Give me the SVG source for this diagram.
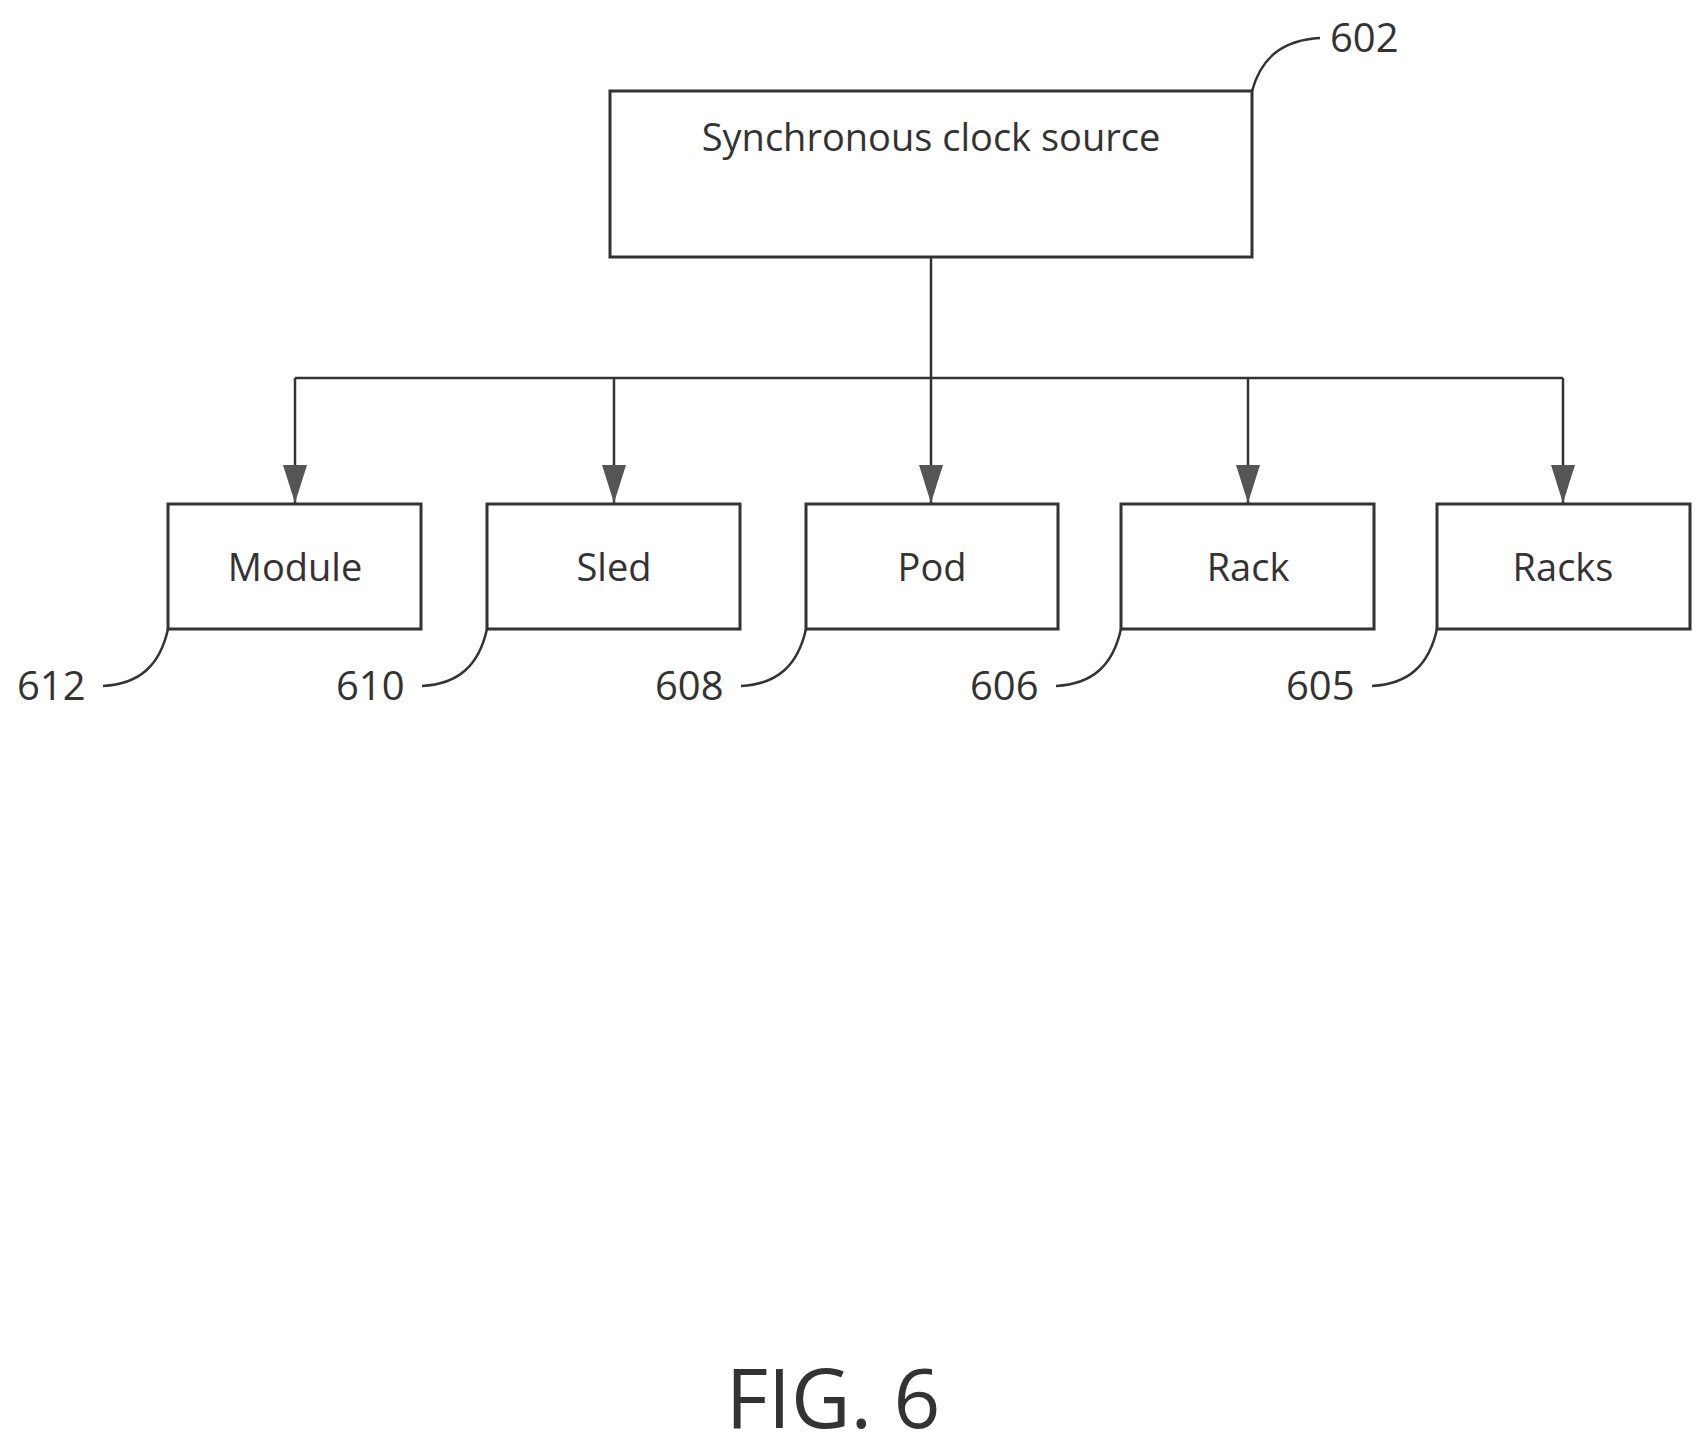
<svg xmlns="http://www.w3.org/2000/svg" width="1703" height="1453" viewBox="0 0 1703 1453">
<style>
.box{fill:#fff;stroke:#333;stroke-width:3}
.ln{fill:none;stroke:#333;stroke-width:2.5}
.t{font-family:"Open Sans","Noto Sans",sans-serif;font-size:38px;fill:#333;text-anchor:middle}
.n{font-family:"Open Sans","Noto Sans",sans-serif;font-size:40px;fill:#333}
</style>
<defs>
<marker id="ah" markerWidth="24" markerHeight="38" refX="12" refY="38" orient="0" markerUnits="userSpaceOnUse" viewBox="0 0 24 38">
<path d="M0,0 L24,0 L12,38 Z" fill="#555"/>
</marker>
</defs>
<g id="connectors">
<path class="ln" d="M931,257 V378"/>
<path class="ln" d="M295,378 H1563"/>
<path class="ln" d="M295,378 V503" marker-end="url(#ah)"/>
<path class="ln" d="M614,378 V503" marker-end="url(#ah)"/>
<path class="ln" d="M931,378 V503" marker-end="url(#ah)"/>
<path class="ln" d="M1248,378 V503" marker-end="url(#ah)"/>
<path class="ln" d="M1563,378 V503" marker-end="url(#ah)"/>
</g>
<g id="n602"><rect class="box" x="610" y="91" width="642" height="166"/><text class="t" x="931" y="151">Synchronous clock source</text>
<path class="ln" d="M1252,91 C1262,55 1285,40 1320,38"/><text class="n" x="1330" y="52">602</text></g>
<g id="n612"><rect class="box" x="168" y="504" width="253" height="125"/><text class="t" x="295" y="581">Module</text>
<path class="ln" d="M168,629 C160,665 140,684 103,686"/><text class="n" x="17" y="700">612</text></g>
<g id="n610"><rect class="box" x="487" y="504" width="253" height="125"/><text class="t" x="614" y="581">Sled</text>
<path class="ln" d="M487,629 C479,665 459,684 422,686"/><text class="n" x="336" y="700">610</text></g>
<g id="n608"><rect class="box" x="806" y="504" width="252" height="125"/><text class="t" x="932" y="581">Pod</text>
<path class="ln" d="M806,629 C798,665 778,684 741,686"/><text class="n" x="655" y="700">608</text></g>
<g id="n606"><rect class="box" x="1121" y="504" width="253" height="125"/><text class="t" x="1248" y="581">Rack</text>
<path class="ln" d="M1121,629 C1113,665 1093,684 1056,686"/><text class="n" x="970" y="700">606</text></g>
<g id="n605"><rect class="box" x="1437" y="504" width="253" height="125"/><text class="t" x="1563" y="581">Racks</text>
<path class="ln" d="M1437,629 C1429,665 1409,684 1372,686"/><text class="n" x="1286" y="700">605</text></g>
<text x="833" y="1428" font-family="Open Sans, Noto Sans, sans-serif" font-size="82" fill="#333" text-anchor="middle">FIG. 6</text>
</svg>
